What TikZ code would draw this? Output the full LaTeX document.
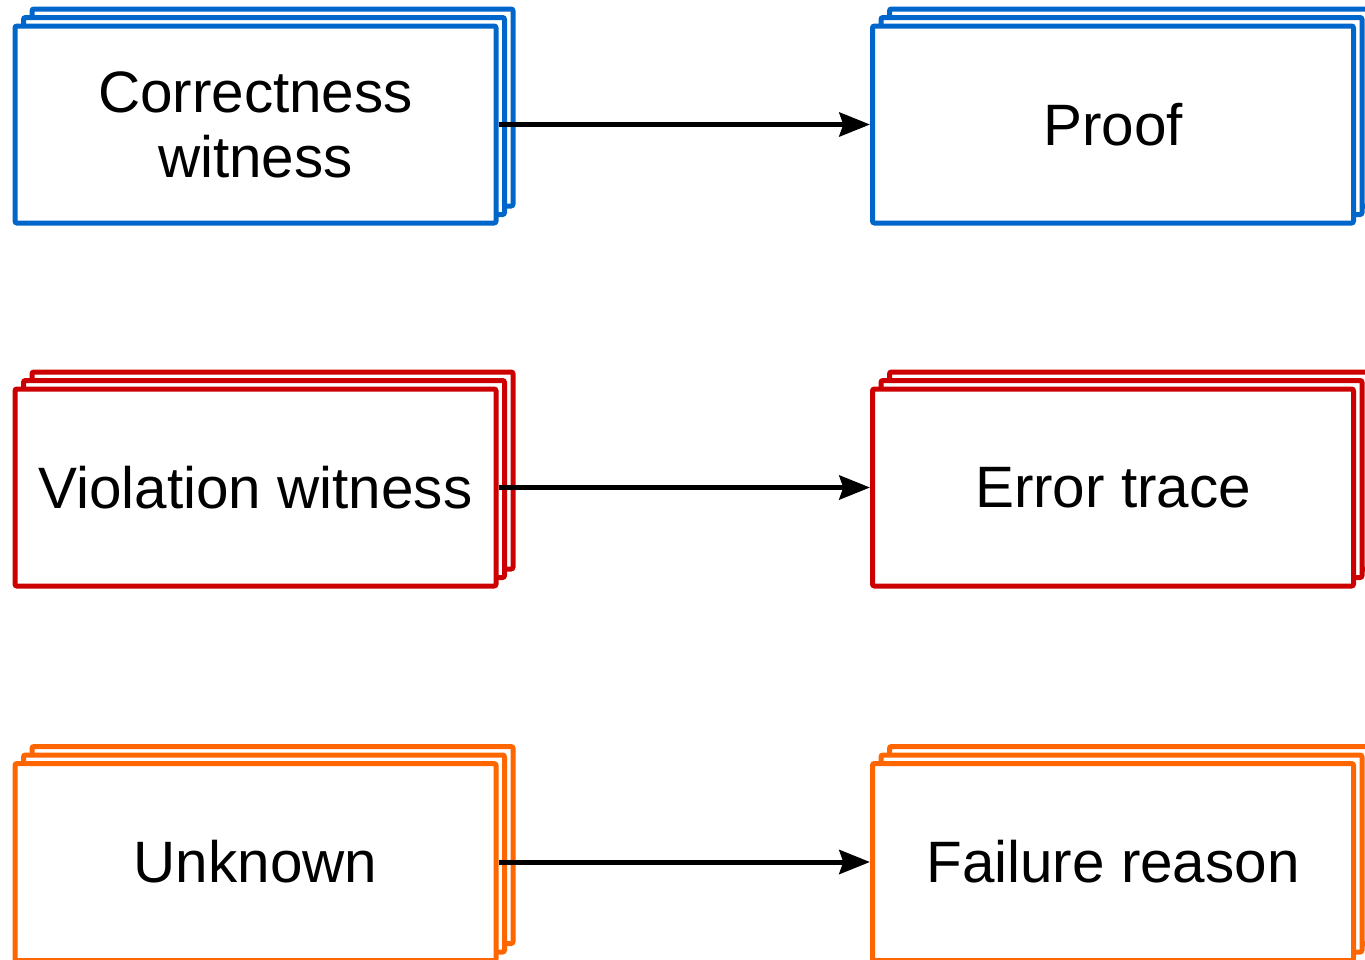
\documentclass[tikz,border=0pt]{standalone}
\usepackage{fontspec}
\setmainfont{Liberation Sans}
\usetikzlibrary{arrows.meta}

\definecolor{okblue}{HTML}{0066CC}
\definecolor{errred}{HTML}{CC0000}
\definecolor{unkorange}{HTML}{FF6600}

\begin{document}
\begin{tikzpicture}[x=0.75pt, y=-0.75pt,
  every node/.style={font=\fontsize{43.8}{48.75}\selectfont},
  card/.style={draw=#1, fill=white, line width=3.75pt, rounded corners=1.5pt,
    minimum width=360.75pt, minimum height=147.75pt, inner sep=0pt, align=center},
  link/.style={line width=3.75pt, -{Stealth[length=23pt, width=18pt, inset=3pt]}}]

\useasboundingbox (0,0) rectangle (1365,960);

% Stacked boxes: two copies behind, then the front one
\foreach \name/\x/\y/\col/\txt in {
    corr/255.5/124.5/okblue/{Correctness\\witness},
    proof/1113/124.5/okblue/{Proof},
    viol/255.5/487.5/errred/{Violation witness},
    trace/1113/487.5/errred/{Error trace},
    unk/255.5/862/unkorange/{Unknown},
    fail/1113/862/unkorange/{Failure reason}} {
  \node[card=\col] (\name-b2) at (\x+17, \y-17) {};
  \node[card=\col] (\name-b1) at (\x+8.5, \y-8.5) {};
  \node[card=\col] (\name) at (\x, \y) {\txt};
}

% Arrows
\draw[link] (corr) -- (proof);
\draw[link] (viol) -- (trace);
\draw[link] (unk) -- (fail);

\end{tikzpicture}
\end{document}
